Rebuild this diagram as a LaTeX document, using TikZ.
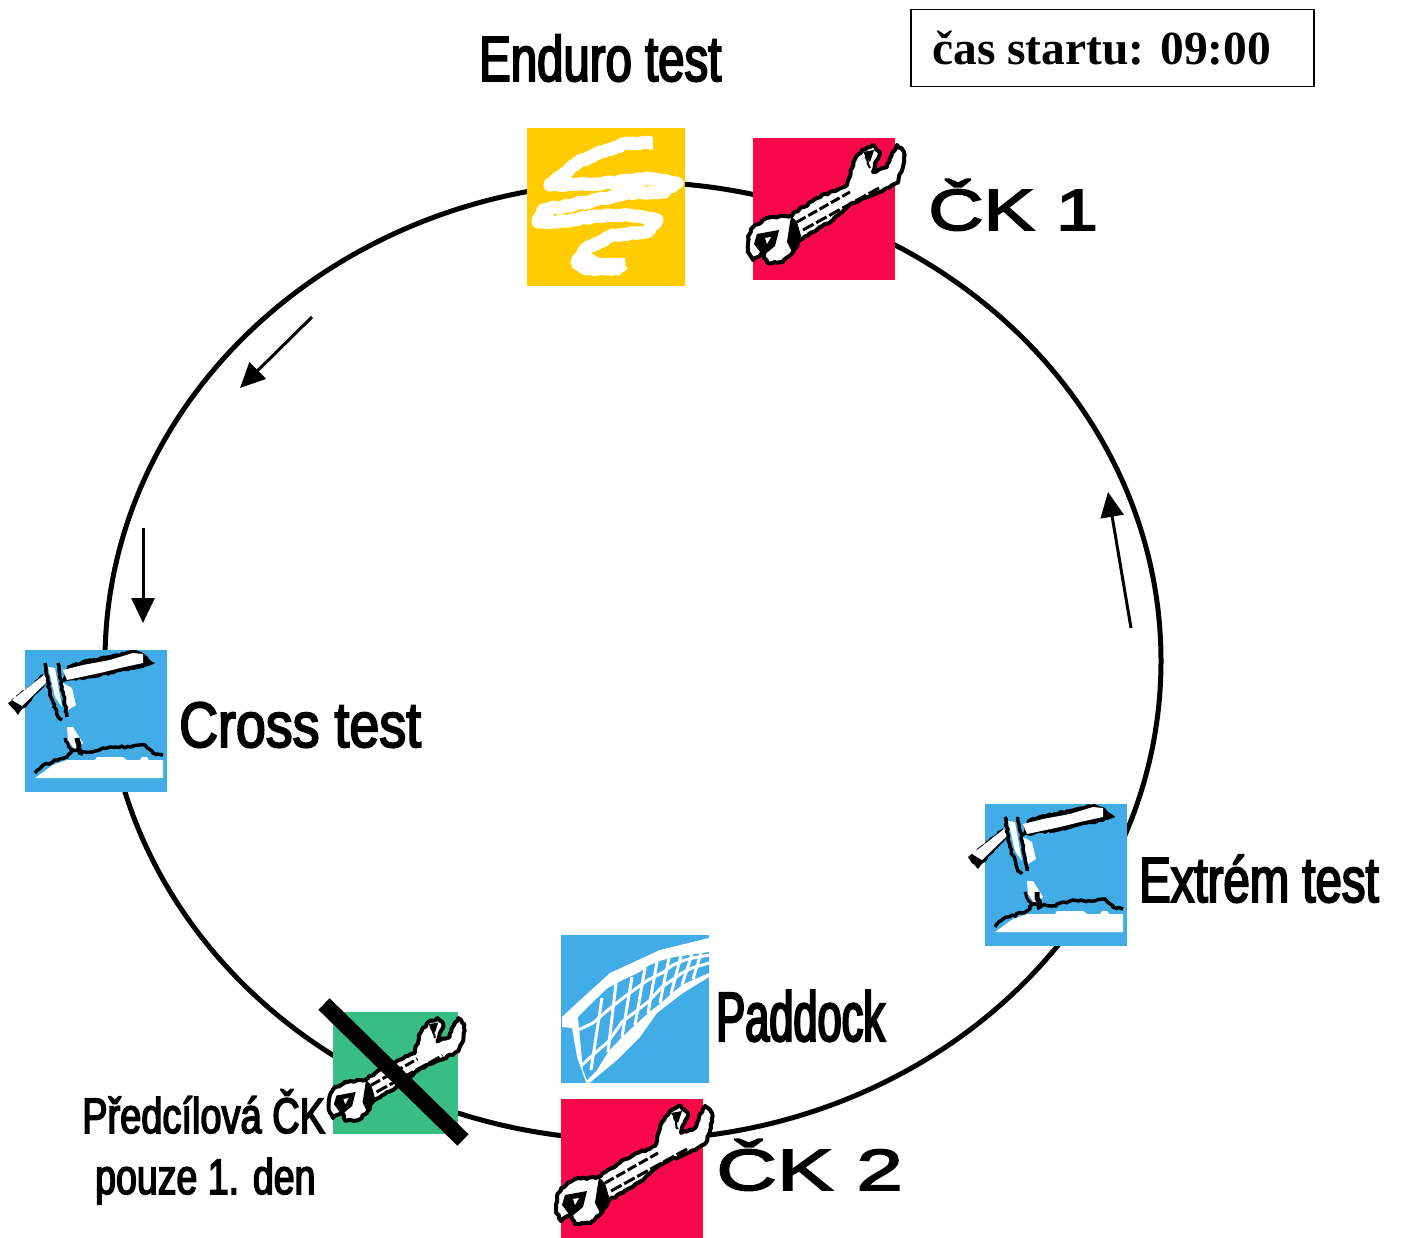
\documentclass[tikz,border=0pt]{standalone}
\usepackage{fontspec}
\usetikzlibrary{positioning}
\usetikzlibrary{arrows.meta}
\usetikzlibrary{decorations.pathmorphing}
\newfontfamily\narrowfont[FakeBold=3,FakeStretch=0.74]{Liberation Sans}
\newfontfamily\crossfont[FakeBold=3,FakeStretch=0.84]{Liberation Sans}
\newfontfamily\paddockfont[FakeBold=3,FakeStretch=0.62]{Liberation Sans}
\newfontfamily\smallfont[FakeBold=3,FakeStretch=0.76]{Liberation Sans}
\newfontfamily\pouzefont[FakeBold=3,FakeStretch=0.75]{Liberation Sans}
\newfontfamily\wideckfont[FakeBold=3,FakeStretch=1.32]{Liberation Sans}
\newfontfamily\wideckbfont[FakeBold=3,FakeStretch=1.45]{Liberation Sans}
\newfontfamily\startfont{Liberation Serif Bold}
\definecolor{iconred}{HTML}{F9074B}
\definecolor{iconyellow}{HTML}{FFCC00}
\definecolor{iconblue}{HTML}{41ACE6}
\definecolor{icongreen}{HTML}{38BE84}
\tikzset{
  iconbox/.style={rectangle, inner sep=0pt, outer sep=0pt, anchor=north west, minimum size=142pt},
  flow/.style={line width=3pt, -{Triangle[length=25pt,width=23pt]}},
  label/.style={inner sep=0pt, anchor=base west, text=black},
  rough/.style={decorate, decoration={random steps, segment length=3pt, amplitude=1pt}},
  wrench/.pic={
    \draw[rough, line width=4pt, fill=white, line join=round]
      (-5,105) -- (-4,97) -- (0,89) -- (14,80) -- (37,78) -- (64,60) -- (94,47) -- (100,25)
      -- (109,12) -- (120,7) -- (127,14) -- (124,22) -- (120,34) -- (134,29) -- (139,15)
      -- (144,7) -- (151,14) -- (150,29) -- (144,45) -- (124,55) -- (100,65) -- (80,82)
      -- (47,102) -- (40,114) -- (30,124) -- (14,125) -- (10,115) -- (0,122) -- (-5,112) -- cycle;
    \fill (4,96) -- (26,92) -- (22,108) -- (10,118) -- (1,106) -- cycle;
    \fill[white] (12,100) -- (18,99) -- (14,106) -- cycle;
    \fill (38,78) -- (44,84) -- (48,98) -- (40,116) -- (34,104) -- cycle;
    \draw[line width=3pt, dash pattern=on 10pt off 3pt] (44,84) -- (97,54);
    \draw[line width=3pt, dash pattern=on 12pt off 3pt] (50,92) -- (126,50);
    \draw[rough, line width=2pt] (112,14) -- (117,30);
    \fill (110,14) -- (121,12) -- (117,24) -- cycle;
  },
  signpost/.pic={
    % arms
    \fill[rough] (42,16) -- (58,10) -- (85,5) -- (108,0) -- (118,3) -- (130,13) -- (118,18) -- (95,22)
      -- (75,27) -- (38,32) -- cycle;
    \fill[white] (38,20) -- (58,15) -- (85,10) -- (108,3) -- (118,4) -- (118,13) -- (95,18)
      -- (75,23) -- (42,30) -- cycle;
    \fill[rough] (-17,53) -- (18,24) -- (22,33) -- (-7,65) -- cycle;
    \fill[white] (-13,50) -- (19,25) -- (23,31) -- (-3,56) -- cycle;
    % pole
    \fill[white] (23,17) -- (30,18) -- (37,57) -- (30,47) -- cycle;
    \fill[white] (38,33) -- (47,38) -- (51,55) -- (43,60) -- cycle;
    \fill[white] (42,77) -- (48,77) -- (58,93) -- (50,100) -- (43,90) -- cycle;
    \draw[rough, line width=3.5pt] (20,13) -- (25,43) -- (33,67) -- (37,70);
    \draw[rough, line width=3.5pt] (33,13) -- (37,37) -- (42,67);
    \draw[rough, line width=3pt] (40,88) -- (47,102);
    \draw[rough, line width=5pt] (52,88) -- (55,105);
    % ground
    \fill[white] (10,128) -- (28,115) -- (42,110) -- (70,110) -- (72,107) -- (98,107) -- (102,110)
      -- (115,110) -- (117,107) -- (122,107) -- (124,110) -- (138,110) -- (138,128) -- cycle;
    \draw[rough, line width=3.5pt] (10,123) -- (18,115) -- (42,107) -- (48,100) -- (67,102) -- (85,97)
      -- (105,97) -- (120,95) -- (128,103) -- (138,105);
  },
  roadway/.pic={
    \draw[rough, white, line width=13pt, line join=round]
      (126,15) -- (100,15) -- (73,24) -- (50,35) -- (31,50) -- (23,57) -- (73,56) -- (120,50)
      -- (150,55) -- (136,64) -- (100,65) -- (60,74) -- (16,82) -- (11,94) -- (30,94) -- (70,88)
      -- (100,87) -- (130,92) -- (120,104) -- (86,107) -- (60,120) -- (50,134) -- (60,141)
      -- (90,141) -- (96,136);
    \fill[white] (49,124) -- (62,124) -- (72,130) -- (98,130) -- (99,140) -- (92,145) -- (55,145)
      -- (45,140) -- cycle;
  },
  netting/.pic={
    \fill[white] (1,82) -- (16,68) -- (49,38) -- (99,15) -- (148,3) -- (148,42) -- (122,58)
      -- (96,78) -- (79,102) -- (56,125) -- (26,150) -- (16,122) -- (11,93) -- (1,92) -- cycle;
    \fill[iconblue] (17,82) -- (32,67) -- (47,53) -- (62,45) -- (77,38) -- (89,30) -- (102,25)
      -- (114,22) -- (148,17) -- (148,38) -- (131,45) -- (121,50) -- (111,58) -- (101,67)
      -- (87,78) -- (74,90) -- (61,102) -- (47,117) -- (36,135) -- (26,145) -- (22,135) -- cycle;
    \draw[white, line width=3pt] (17,95) -- (32,88) -- (47,75) -- (62,63) -- (77,52) -- (87,45)
      -- (101,38) -- (112,30) -- (124,25) -- (132,23) -- (148,20);
    \draw[white, line width=3pt] (21,130) -- (34,118) -- (47,107) -- (61,87) -- (74,77) -- (87,67)
      -- (101,52) -- (111,45) -- (121,38) -- (131,33) -- (148,28);
    \foreach \tx/\ty/\bx/\by in {41/63/30/135, 55/48/47/117, 71/42/61/102, 84/33/74/90,
      96/27/87/78, 108/23/99/68, 120/21/110/59, 131/19/121/50, 140/18/132/44}
      \draw[white, line width=3pt] (\tx,\ty) -- (\bx,\by);
  },
}
\begin{document}
\begin{tikzpicture}[x=1pt, y=-1pt]
    \useasboundingbox (0,0) rectangle (1401,1238);
    \draw[line width=5pt] (633,661) ellipse [x radius=528pt, y radius=479pt];

    \node[iconbox, fill=iconyellow, minimum size=158pt] (enduro) at (527,128) {};
    \pic at (enduro.north west) {roadway};
    \node[iconbox, fill=iconred] (ck1) at (753,138) {};
    \pic at (ck1.north west) {wrench};
    \node[iconbox, fill=iconblue] (cross) at (25,650) {};
    \pic at (cross.north west) {signpost};
    \node[iconbox, fill=iconblue] (extrem) at (985,804) {};
    \pic at (extrem.north west) {signpost};
    \node[iconbox, fill=iconblue, minimum size=148pt] (paddock) at (561,935) {};
    \pic at (paddock.north west) {netting};
    \node[iconbox, fill=iconred, minimum height=142pt, minimum width=142pt] (ck2) at (561,1099) {};
    \pic at (ck2.north west) {wrench};
    \node[iconbox, fill=icongreen, minimum width=125pt, minimum height=122pt] (finish) at (333,1012) {};
    \pic[scale=0.87] at (finish.north west) {wrench};

    \coordinate (crossA) at (324,1004);
    \coordinate (crossB) at (463,1140);
    \draw[line width=16pt] (crossA) -- (crossB);

    \coordinate (a1) at (312,317);
    \coordinate (a2) at (240,388);
    \coordinate (b1) at (143,528);
    \coordinate (b2) at (143,623);
    \coordinate (c1) at (1131,628);
    \coordinate (c2) at (1108,492);
    \draw[flow] (a1) -- (a2);
    \draw[flow] (b1) -- (b2);
    \draw[flow] (c1) -- (c2);

    \node[label, font=\narrowfont\fontsize{64}{70}\selectfont] (endurotext) at (479,81) {Enduro test};
    \node[label, font=\crossfont\fontsize{64}{70}\selectfont] (crosstext) at (179,747) {Cross test};
    \node[label, font=\narrowfont\fontsize{64}{70}\selectfont] (extremtext) at (1139,902) {Extrém test};
    \node[label, font=\paddockfont\fontsize{70}{70}\selectfont] (paddocktext) at (716,1041) {Paddock};
    \node[label, font=\wideckfont\fontsize{58}{70}\selectfont] (ck1text) at (928,230) {ČK 1};
    \node[label, font=\wideckbfont\fontsize{58}{70}\selectfont] (ck2text) at (716,1190) {ČK 2};
    \node[label, font=\smallfont\fontsize{50}{60}\selectfont] (finishtext) at (82,1133) {Předcílová ČK};
    \node[label, font=\pouzefont\fontsize{50}{60}\selectfont] (finishtextb) at (95,1194) {pouze 1. den};

    \node[rectangle, draw, line width=1.5pt, minimum width=403pt, minimum height=77pt,
    inner sep=0pt, anchor=north west] (startbox) at (910,9) {};
    \node[label, font=\startfont\fontsize{47.5}{54}\selectfont] (starttext) at (932,65) {čas startu: 09:00};
\end{tikzpicture}
\end{document}
